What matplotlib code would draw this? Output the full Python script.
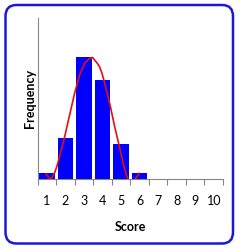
import matplotlib
matplotlib.use("Agg")
import matplotlib.pyplot as plt
from matplotlib.patches import FancyBboxPatch

scores = [1, 2, 3, 4, 5, 6, 7, 8, 9, 10]
tick_labels = ["1", "2", "3", "4", "5", "6", "7", "8", "9", "10"]
frequency = [1.0, 7.8, 23.3, 18.9, 6.6, 1.0, 0, 0, 0, 0]

curve_x = [0.97, 1.08, 1.17, 1.30, 1.42, 1.55, 1.69, 1.96, 2.23, 2.50, 2.77,
           3.04, 3.31, 3.47, 3.58, 3.72, 3.85, 3.98, 4.12, 4.39, 4.66, 4.93,
           5.11, 5.29, 5.40, 5.55, 5.70, 5.85, 5.98]
curve_y = [0.87, 0.3, -0.1, 0.3, 1.06, 2.4, 4.2, 8.0, 12.2, 16.4, 19.9,
           22.2, 23.1, 23.3, 22.8, 22.2, 21.5, 20.2, 18.4, 14.5, 10.0, 5.9,
           3.0, 0.67, -0.3, -0.8, -0.5, 0.3, 1.0]

fig = plt.figure(figsize=(2.4, 2.5), dpi=100)
fig.patch.set_facecolor("white")

border = FancyBboxPatch((5.5 / 240, 6.5 / 250), (233 - 5.5) / 240, (245 - 6.5) / 250,
                        boxstyle="round,pad=0,rounding_size=0.045",
                        transform=fig.transFigure, fill=False,
                        edgecolor="#1a1ad6", linewidth=1.8)
fig.patches.append(border)

ax = fig.add_axes([37.5 / 240, 71.5 / 250, 185.5 / 240, 160.5 / 250])
ax.bar(scores, frequency, width=0.84, color="#0000ff", zorder=2)
ax.plot(curve_x, curve_y, color="#e01010", linewidth=1.2, zorder=3)

ax.set_xlim(0.5, 10.5)
ax.set_ylim(0, 30.9)
for s in ["top", "right"]:
    ax.spines[s].set_visible(False)
for s in ["left", "bottom"]:
    ax.spines[s].set_color("#868686")
    ax.spines[s].set_linewidth(0.8)
ax.spines["bottom"].set_zorder(4)

ax.set_yticks([])
ax.set_xticks(scores)
ax.set_xticklabels(tick_labels, fontsize=9, family="Lato")
ax.tick_params(axis="x", which="major", length=0, pad=12)
ax.set_xticks([0.5 + i for i in range(11)], minor=True)
ax.tick_params(axis="x", which="minor", length=4, color="#868686", width=0.8)

ax.set_xlabel("Score", fontsize=9, fontweight="bold", family="Lato", labelpad=10)
ax.set_ylabel("Frequency", fontsize=9, fontweight="bold", family="Lato", labelpad=1)

fig.savefig("out.png", dpi=100, facecolor="white")
